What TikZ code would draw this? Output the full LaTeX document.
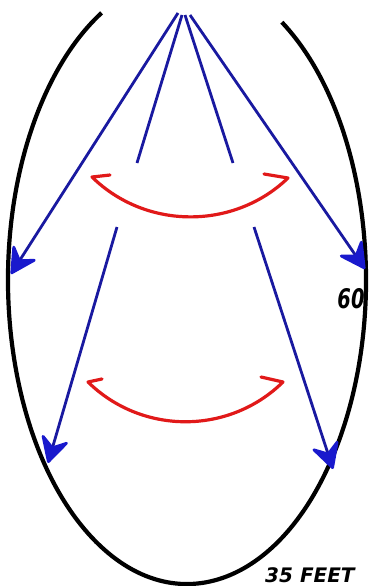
\documentclass[tikz,border=0pt]{standalone}
\usepackage{fontspec}
\newfontfamily\sixtyfont[FakeStretch=0.72]{DejaVu Sans}
\newfontfamily\feetfont[FakeStretch=1.0]{DejaVu Sans}
\usetikzlibrary{arrows.meta}
\definecolor{fanblue}{RGB}{25,25,160}
\definecolor{headblue}{RGB}{25,25,205}
\definecolor{swingred}{RGB}{225,25,25}
\begin{document}
\begin{tikzpicture}[x=1pt,y=-1pt,
  rim/.style={line width=4.2pt,black},
  ray/.style={line width=2.8pt,fanblue},
  rayhead/.style={-{Stealth[length=30pt,width=32pt,inset=11pt,round,fill=headblue,color=headblue]}},
  swing/.style={line width=3.2pt,swingred,line cap=round,line join=round},
  lab/.style={inner sep=0pt,text=black}]
\useasboundingbox (0,0) rectangle (368,586);
\clip (0,0) rectangle (368,586);
\fill[white] (0,0) rectangle (368,586);
% rim
\coordinate (c) at (187,280);
\draw[rim] (c) ++(-58:179 and 304) arc[start angle=-58,end angle=241.5,x radius=179,y radius=304];
% apex points
\coordinate (apexA) at (178,13);
\coordinate (apexB) at (182,15);
\coordinate (apexC) at (185,15);
\coordinate (apexD) at (190,15);
% tips
\coordinate (tipOL) at (11,274);
\coordinate (tipIL) at (48,463);
\coordinate (tipIR) at (333,469);
\coordinate (tipOR) at (365,269);
% gaps
\coordinate (gapIL1) at (137,163);
\coordinate (gapIL2) at (117,227);
\coordinate (gapIR1) at (233,163);
\coordinate (gapIR2) at (254,227);
% rays
\draw[ray,rayhead] (apexA) -- (tipOL);
\draw[ray] (apexB) -- (gapIL1);
\draw[ray,rayhead] (gapIL2) -- (tipIL);
\draw[ray] (apexC) -- (gapIR1);
\draw[ray,rayhead] (gapIR2) -- (tipIR);
\draw[ray,rayhead] (apexD) -- (tipOR);
% red swings
\coordinate (uLb) at (110,175);
\coordinate (uL) at (92,177);
\coordinate (uR) at (288,178);
\coordinate (uRb) at (264,174);
\draw[swing] (uLb) -- (uL) .. controls (146,230) and (234,230) .. (uR) -- (uRb);
\coordinate (lLb) at (102,379);
\coordinate (lL) at (88,382);
\coordinate (lR) at (283,382);
\coordinate (lRb) at (261,377);
\draw[swing] (lLb) -- (lL) .. controls (142,435) and (229,435) .. (lR) -- (lRb);
% labels
\node[lab,anchor=base] (sixty) at (351,308) {\sixtyfont\bfseries\itshape\fontsize{27}{27}\selectfont 60};
\node[lab,anchor=base west] (feet) at (265,582) {\feetfont\bfseries\itshape\fontsize{20}{20}\selectfont 35 FEET};
\end{tikzpicture}
\end{document}
